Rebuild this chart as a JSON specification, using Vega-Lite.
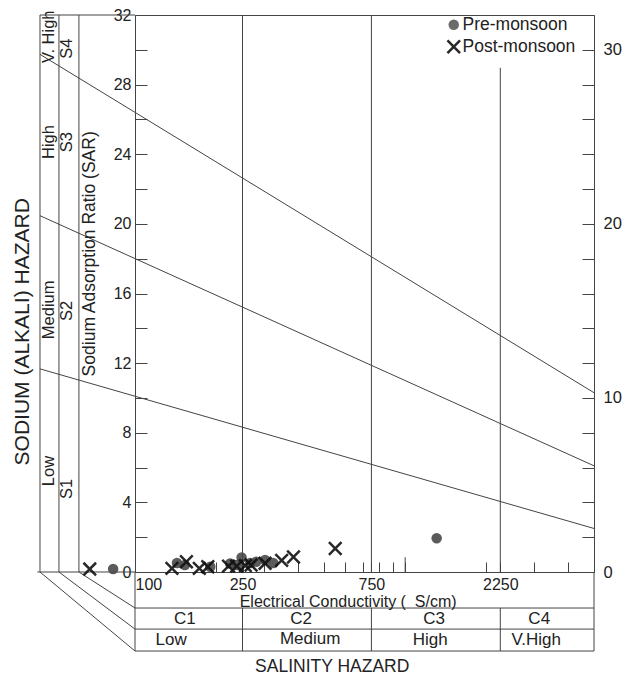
{
  "$schema": "https://vega.github.io/schema/vega-lite/v6.json",
  "width": 459,
  "height": 557,
  "autosize": {"type": "none"},
  "padding": {"left": 135, "top": 15, "right": 34, "bottom": 103},
  "background": "white",
  "config": {
    "view": {"stroke": "#444", "strokeWidth": 1},
    "font": "Liberation Sans",
    "axis": {"labelFont": "Liberation Sans", "labelColor": "#222", "tickColor": "#444", "domainColor": "#444", "grid": false, "title": null, "labelOverlap": false}
  },
  "datasets": {
    "segments": [
      {"x1": 44.5, "y1": 0, "x2": 44.5, "y2": 32},
      {"x1": 52.3, "y1": 0, "x2": 52.3, "y2": 32},
      {"x1": 62, "y1": 0, "x2": 62, "y2": 32},
      {"x1": 44.5, "y1": 32, "x2": 100, "y2": 32},
      {"x1": 43.5, "y1": 0, "x2": 100, "y2": 0},
      {"x1": 44.5, "y1": 0, "x2": 100, "y2": -4.54},
      {"x1": 52.3, "y1": 0, "x2": 100, "y2": -3.28},
      {"x1": 62, "y1": 0, "x2": 100, "y2": -2.07},
      {"x1": 100, "y1": 0, "x2": 100, "y2": -4.54},
      {"x1": 5000, "y1": 0, "x2": 5000, "y2": -4.54},
      {"x1": 100, "y1": -2.07, "x2": 5000, "y2": -2.07},
      {"x1": 100, "y1": -3.28, "x2": 5000, "y2": -3.28},
      {"x1": 100, "y1": -4.54, "x2": 5000, "y2": -4.54},
      {"x1": 250, "y1": -2.07, "x2": 250, "y2": -4.54},
      {"x1": 750, "y1": -2.07, "x2": 750, "y2": -4.54},
      {"x1": 2250, "y1": -2.07, "x2": 2250, "y2": -4.54},
      {"x1": 250, "y1": 0, "x2": 250, "y2": 32},
      {"x1": 750, "y1": 0, "x2": 750, "y2": 32},
      {"x1": 2250, "y1": 0, "x2": 2250, "y2": 28.97},
      {"x1": 1000, "y1": 0, "x2": 1000, "y2": 0.85},
      {"x1": 44.5, "y1": 11.67, "x2": 5000, "y2": 2.5},
      {"x1": 44.5, "y1": 20.47, "x2": 5000, "y2": 6.1},
      {"x1": 44.5, "y1": 29.74, "x2": 5000, "y2": 10.3}
    ],
    "samples": [
      {"season": "Pre-monsoon", "ec": 83, "sar": 0.17},
      {"season": "Pre-monsoon", "ec": 143, "sar": 0.52},
      {"season": "Pre-monsoon", "ec": 153, "sar": 0.4},
      {"season": "Pre-monsoon", "ec": 190, "sar": 0.3},
      {"season": "Pre-monsoon", "ec": 225, "sar": 0.49},
      {"season": "Pre-monsoon", "ec": 239, "sar": 0.4},
      {"season": "Pre-monsoon", "ec": 248, "sar": 0.83},
      {"season": "Pre-monsoon", "ec": 267, "sar": 0.52},
      {"season": "Pre-monsoon", "ec": 281, "sar": 0.59},
      {"season": "Pre-monsoon", "ec": 303, "sar": 0.69},
      {"season": "Pre-monsoon", "ec": 325, "sar": 0.52},
      {"season": "Pre-monsoon", "ec": 1308, "sar": 1.94},
      {"season": "Post-monsoon", "ec": 68, "sar": 0.17},
      {"season": "Post-monsoon", "ec": 137, "sar": 0.21},
      {"season": "Post-monsoon", "ec": 155, "sar": 0.59},
      {"season": "Post-monsoon", "ec": 173, "sar": 0.21},
      {"season": "Post-monsoon", "ec": 186, "sar": 0.3},
      {"season": "Post-monsoon", "ec": 222, "sar": 0.34},
      {"season": "Post-monsoon", "ec": 238, "sar": 0.34},
      {"season": "Post-monsoon", "ec": 256, "sar": 0.37},
      {"season": "Post-monsoon", "ec": 269, "sar": 0.4},
      {"season": "Post-monsoon", "ec": 303, "sar": 0.5},
      {"season": "Post-monsoon", "ec": 349, "sar": 0.67},
      {"season": "Post-monsoon", "ec": 386, "sar": 0.86},
      {"season": "Post-monsoon", "ec": 551, "sar": 1.35}
    ],
    "sideLabels": [
      {"label": "V. High", "ec": 48.0, "sar": 30.75},
      {"label": "High", "ec": 48.0, "sar": 24.7},
      {"label": "Medium", "ec": 48.0, "sar": 15.06},
      {"label": "Low", "ec": 48.0, "sar": 5.8},
      {"label": "S4", "ec": 56.2, "sar": 30.06},
      {"label": "S3", "ec": 56.2, "sar": 24.7},
      {"label": "S2", "ec": 56.2, "sar": 15.0},
      {"label": "S1", "ec": 56.2, "sar": 4.77}
    ],
    "sideTitles": [
      {"label": "Sodium Adsorption Ratio (SAR)", "ec": 68.1, "sar": 18.28}
    ],
    "hazardY": [
      {"label": "SODIUM (ALKALI) HAZARD", "ec": 38.5, "sar": 13.8}
    ],
    "classLabels": [
      {"label": "C1", "ec": 153, "sar": -2.7},
      {"label": "C2", "ec": 412, "sar": -2.7},
      {"label": "C3", "ec": 1280, "sar": -2.7},
      {"label": "C4", "ec": 3135, "sar": -2.7},
      {"label": "Low", "ec": 136, "sar": -3.91},
      {"label": "Medium", "ec": 445, "sar": -3.86},
      {"label": "High", "ec": 1238, "sar": -3.91},
      {"label": "V.High", "ec": 3055, "sar": -3.91}
    ],
    "ecTitle": [
      {"label": "Electrical Conductivity (\u00a0\u00a0S/cm)", "ec": 615, "sar": -1.72}
    ],
    "hazardX": [
      {"label": "SALINITY HAZARD", "ec": 537, "sar": -5.46}
    ]
  },
  "layer": [
    {
      "data": {"name": "segments"},
      "mark": {"type": "rule", "color": "#444", "strokeWidth": 1},
      "encoding": {
        "x": {
          "field": "x1", "type": "quantitative",
          "scale": {"type": "log", "domain": [100, 5000], "nice": false},
          "axis": {
            "orient": "bottom",
            "values": [100, 200, 250, 300, 400, 500, 600, 700, 750, 800, 900, 1000, 2000, 2250, 3000, 4000],
            "format": "d",
            "labelExpr": "(datum.value == 100 || datum.value == 250 || datum.value == 750 || datum.value == 2250) ? datum.label : ''",
            "tickSize": -10,
            "labelPadding": 14,
            "labelFlush": true,
            "labelFontSize": 16
          }
        },
        "x2": {"field": "x2"},
        "y": {
          "field": "y1", "type": "quantitative",
          "scale": {"domain": [0, 32], "nice": false, "zero": false},
          "axis": {
            "orient": "left",
            "values": [0, 2, 4, 6, 8, 10, 12, 14, 16, 18, 20, 22, 24, 26, 28, 30, 32],
            "labelExpr": "datum.value % 4 == 0 ? datum.label : ''",
            "tickSize": -12,
            "labelPadding": 16,
            "labelFontSize": 16
          }
        },
        "y2": {"field": "y2"}
      }
    },
    {
      "data": {"name": "sideLabels"},
      "mark": {"type": "text", "angle": 270, "fontSize": 16.5, "font": "Liberation Sans", "color": "#222", "align": "center", "baseline": "middle"},
      "encoding": {
        "x": {"field": "ec", "type": "quantitative"},
        "y": {"field": "sar", "type": "quantitative", "axis": null},
        "text": {"field": "label"}
      }
    },
    {
      "data": {"name": "sideTitles"},
      "mark": {"type": "text", "angle": 270, "fontSize": 17.5, "font": "Liberation Sans", "color": "#222", "align": "center", "baseline": "middle"},
      "encoding": {
        "x": {"field": "ec", "type": "quantitative"},
        "y": {"field": "sar", "type": "quantitative", "axis": null},
        "text": {"field": "label"}
      }
    },
    {
      "data": {"name": "hazardY"},
      "mark": {"type": "text", "angle": 270, "fontSize": 21, "font": "Liberation Sans", "color": "#222", "align": "center", "baseline": "middle"},
      "encoding": {
        "x": {"field": "ec", "type": "quantitative"},
        "y": {"field": "sar", "type": "quantitative", "axis": null},
        "text": {"field": "label"}
      }
    },
    {
      "data": {"name": "classLabels"},
      "mark": {"type": "text", "fontSize": 17, "font": "Liberation Sans", "color": "#222", "align": "center", "baseline": "middle"},
      "encoding": {
        "x": {"field": "ec", "type": "quantitative"},
        "y": {"field": "sar", "type": "quantitative", "axis": null},
        "text": {"field": "label"}
      }
    },
    {
      "data": {"name": "ecTitle"},
      "mark": {"type": "text", "fontSize": 16, "font": "Liberation Sans", "color": "#222", "align": "center", "baseline": "middle"},
      "encoding": {
        "x": {"field": "ec", "type": "quantitative"},
        "y": {"field": "sar", "type": "quantitative", "axis": null},
        "text": {"field": "label"}
      }
    },
    {
      "data": {"name": "hazardX"},
      "mark": {"type": "text", "fontSize": 17.5, "font": "Liberation Sans", "color": "#222", "align": "center", "baseline": "middle"},
      "encoding": {
        "x": {"field": "ec", "type": "quantitative"},
        "y": {"field": "sar", "type": "quantitative", "axis": null},
        "text": {"field": "label"}
      }
    },
    {
      "data": {"name": "samples"},
      "mark": {"type": "point", "size": 110, "strokeWidth": 2.5, "opacity": 0.9},
      "encoding": {
        "x": {"field": "ec", "type": "quantitative"},
        "y": {
          "field": "sar", "type": "quantitative",
          "axis": {
            "orient": "right",
            "values": [0, 2, 4, 6, 8, 10, 12, 14, 16, 18, 20, 22, 24, 26, 28, 30],
            "labelExpr": "datum.value % 10 == 0 ? datum.label : ''",
            "tickSize": -12,
            "labelPadding": 21,
            "labelFontSize": 16.5
          }
        },
        "shape": {
          "field": "season", "type": "nominal",
          "scale": {"domain": ["Pre-monsoon", "Post-monsoon"], "range": ["circle", "M-1.2,-1.2L1.2,1.2M-1.2,1.2L1.2,-1.2"]},
          "legend": {"orient": "none", "legendX": 310, "legendY": 1, "title": null, "labelFontSize": 17.5, "labelFont": "Liberation Sans", "labelColor": "#222", "rowPadding": 0, "labelOffset": 0, "padding": 0, "symbolSize": 110, "symbolStrokeWidth": 2.5}
        },
        "fill": {
          "field": "season", "type": "nominal",
          "scale": {"domain": ["Pre-monsoon", "Post-monsoon"], "range": ["#4a4a4a", "transparent"]},
          "legend": {"orient": "none", "legendX": 310, "legendY": 1, "title": null, "labelFontSize": 17.5, "labelFont": "Liberation Sans", "labelColor": "#222", "rowPadding": 0, "labelOffset": 0, "padding": 0, "symbolSize": 110, "symbolStrokeWidth": 2.5}
        },
        "stroke": {
          "field": "season", "type": "nominal",
          "scale": {"domain": ["Pre-monsoon", "Post-monsoon"], "range": ["transparent", "#111111"]},
          "legend": {"orient": "none", "legendX": 310, "legendY": 1, "title": null, "labelFontSize": 17.5, "labelFont": "Liberation Sans", "labelColor": "#222", "rowPadding": 0, "labelOffset": 0, "padding": 0, "symbolSize": 110, "symbolStrokeWidth": 2.5}
        }
      }
    }
  ],
  "resolve": {"axis": {"y": "independent"}}
}
